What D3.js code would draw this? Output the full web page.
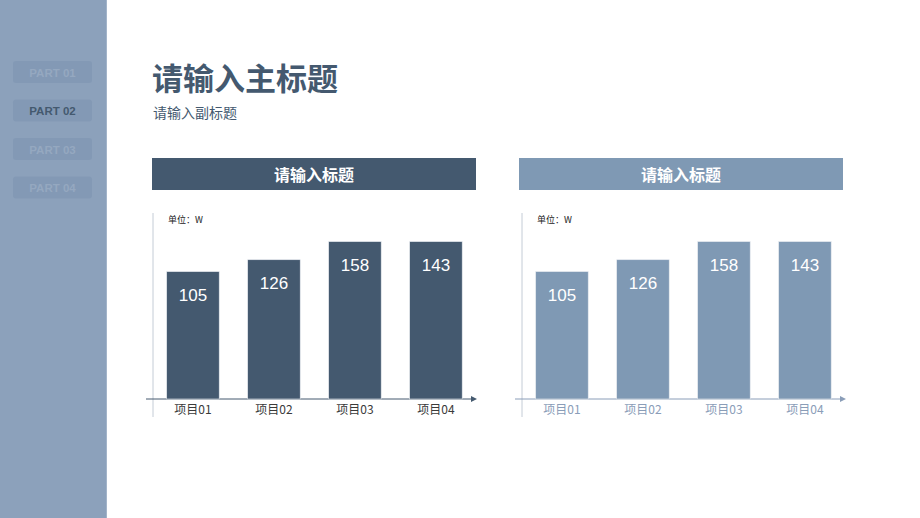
<!DOCTYPE html>
<html><head><meta charset="utf-8">
<script src="https://cdn.jsdelivr.net/npm/d3@7/dist/d3.min.js"></script>
<style>body{margin:0;background:#fff}svg{display:block}</style>
</head><body>
<script>
const categories = ["项目01","项目02","项目03","项目04"];
const barValues = [105, 126, 158, 158];
const barLabels = ["105","126","158","143"];
const navItems = ["PART 01","PART 02","PART 03","PART 04"];
const activeNav = "PART 02";
const title = "请输入主标题";
const subtitle = "请输入副标题";
const panelTitles = ["请输入标题","请输入标题"];
const unitLabel = "单位：W";

const W = 920, H = 518;
const cjk = "'Noto Sans CJK SC','Liberation Sans',sans-serif";
const lat = "'Liberation Sans',Arial,sans-serif";
const svg = d3.select("body").append("svg").attr("width", W).attr("height", H);

// sidebar
svg.append("rect").attr("x",0).attr("y",0).attr("width",107).attr("height",H).attr("fill","#8ca1bb");
svg.append("rect").attr("x",106).attr("y",0).attr("width",1).attr("height",H).attr("fill","#a3b4c9");
const nav = svg.append("g");
navItems.forEach((t,i)=>{
  const y0 = 61 + i*38.5;
  nav.append("rect").attr("x",13).attr("y",y0).attr("width",79).attr("height",22).attr("rx",3)
    .attr("fill","#8399b5");
  nav.append("text").attr("x",52.5).attr("y",y0+15.5).attr("text-anchor","middle")
    .attr("font-family",lat).attr("font-weight","bold").attr("font-size",11.5)
    .attr("fill", t===activeNav ? "#44596f" : "#95a8c0").text(t);
});

// titles
svg.append("text").attr("x",152).attr("y",89.5).attr("font-family",cjk).attr("font-weight","bold")
  .attr("font-size",31).attr("fill","#44596f").text(title);
svg.append("text").attr("x",153).attr("y",118).attr("font-family",cjk)
  .attr("font-size",14).attr("fill","#44596f").text(subtitle);

const panels = [
  {x0:152, headFill:"#44596f", barFill:"#44596f", catFill:"#3a3a3a", axisX:153, axisFill:"#44596f"},
  {x0:519, headFill:"#7f99b4", barFill:"#7f99b4", catFill:"#8a9db8", axisX:522, axisFill:"#8a9db8"}
];

const y = d3.scaleLinear().domain([-120,160]).range([399, 240.5]);

panels.forEach((p,pi)=>{
  const g = svg.append("g");
  g.append("rect").attr("x",p.x0).attr("y",158).attr("width",324).attr("height",32).attr("fill",p.headFill);
  g.append("text").attr("x",p.x0+162).attr("y",180.5).attr("text-anchor","middle")
    .attr("font-family",cjk).attr("font-weight","bold").attr("font-size",16).attr("fill","#fff")
    .text(panelTitles[pi]);

  const ax = p.axisX;
  const x = d3.scaleBand().domain(categories).range([ax+1, ax+321.9]).paddingInner(0.352).paddingOuter(0.157);

  // y axis line
  g.append("line").attr("x1",ax).attr("x2",ax).attr("y1",213).attr("y2",417)
    .attr("stroke","#c4ccd6").attr("stroke-width",1);
  // x axis with arrow
  g.append("line").attr("x1",ax-7).attr("x2",ax+318).attr("y1",399).attr("y2",399)
    .attr("stroke",p.axisFill).attr("stroke-width",1);
  g.append("path").attr("d",`M${ax+318},396 L${ax+324},399 L${ax+318},402 Z`).attr("fill",p.axisFill);

  g.append("text").attr("x",ax+15).attr("y",223).attr("font-family",cjk).attr("font-size",9)
    .attr("fill","#222").text(unitLabel);

  g.selectAll("rect.bar").data(categories).enter().append("rect").attr("class","bar")
    .attr("x",d=>x(d)).attr("width",x.bandwidth())
    .attr("y",(d,i)=>y(barValues[i])).attr("height",(d,i)=>y(-120)-y(barValues[i]))
    .attr("fill",p.barFill).attr("stroke","#e6eaef").attr("stroke-width",0.6);

  g.selectAll("text.val").data(categories).enter().append("text").attr("class","val")
    .attr("x",d=>x(d)+x.bandwidth()/2).attr("y",(d,i)=>y(barValues[i])+29)
    .attr("text-anchor","middle").attr("font-family",lat).attr("font-size",17).attr("fill","#fff")
    .text((d,i)=>barLabels[i]);

  g.selectAll("text.cat").data(categories).enter().append("text").attr("class","cat")
    .attr("x",d=>x(d)+x.bandwidth()/2).attr("y",414)
    .attr("text-anchor","middle").attr("font-family",cjk).attr("font-size",12).attr("fill",p.catFill)
    .text(d=>d);
});
</script>
</body></html>
